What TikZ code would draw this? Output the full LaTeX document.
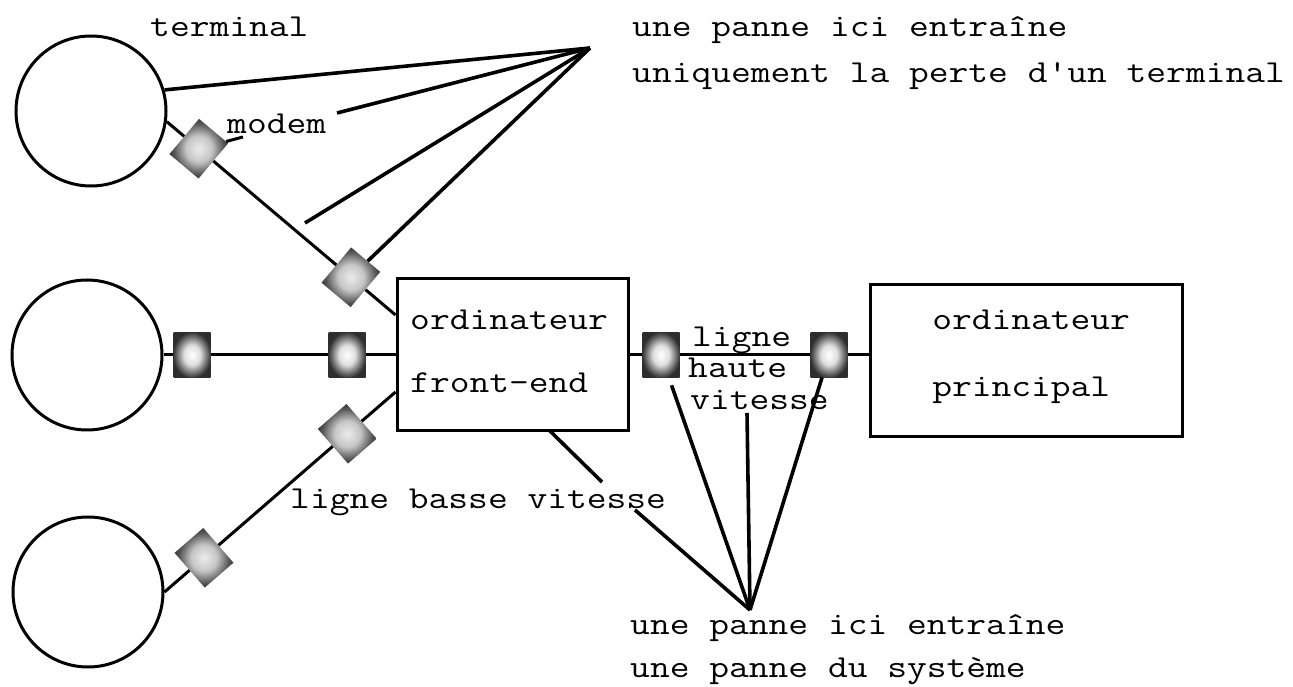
\documentclass[tikz,border=0pt]{standalone}
\usepackage{fontspec}
\usetikzlibrary{calc}
\pgfdeclareradialshading{sqshade}{\pgfpoint{0bp}{0bp}}{color(0bp)=(white); color(11bp)=(gray!25); color(21bp)=(black!60); color(26bp)=(black!82); color(50bp)=(black!82)}
\pgfdeclareradialshading{dmshade}{\pgfpoint{0bp}{0bp}}{color(0bp)=(gray!15); color(11bp)=(gray!45); color(21bp)=(black!66); color(26bp)=(black!80); color(50bp)=(black!80)}
\begin{document}
\begin{tikzpicture}[x=1pt,y=1pt,
  term/.style={circle,draw,line width=3pt,minimum size=150pt,inner sep=0pt},
  comp/.style={rectangle,draw,line width=3pt,inner sep=0pt},
  modem/.style={rectangle,shading=sqshade,minimum width=37pt,minimum height=45pt,inner sep=0pt},
  dmodem/.style={rectangle,shading=dmshade,minimum width=38pt,minimum height=46pt,inner sep=0pt},
  txt/.style={anchor=base west,inner sep=0pt,xscale=1.2,font=\ttfamily\fontsize{32}{38}\selectfont},
  wire/.style={line width=3pt},
  fan/.style={line width=3.6pt}]
\useasboundingbox (0,0) rectangle (1293,686);
\fill[white] (0,0) rectangle (1293,686);
% terminals and computers
\node[term] (t1) at (91,575) {};
\node[term] (t2) at (87,331) {};
\node[term] (t3) at (88,94) {};
\node[comp,minimum width=231pt,minimum height=152pt] (fe) at (512.5,331) {};
\node[comp,minimum width=312pt,minimum height=152pt] (pc) at (1026,325) {};
% attachment points
\coordinate (feu) at ([yshift=40pt]fe.west);
\coordinate (fel) at ([yshift=-37pt]fe.west);
% modems
\node[dmodem,rotate=-40] (m1) at ($(t1.-8)!0.14!(feu)$) {};
\node[dmodem,rotate=-40] (m2) at ($(t1.-8)!0.805!(feu)$) {};
\node[modem] (m3) at (192,331) {};
\node[modem] (m4) at (347,331) {};
\node[dmodem,rotate=41] (m5) at ($(fel)!0.209!(t3.east)$) {};
\node[dmodem,rotate=41] (m6) at ($(fel)!0.829!(t3.east)$) {};
\node[modem] (m7) at (661,331) {};
\node[modem] (m8) at (829,331) {};
% lines
\draw[wire] (t1.-8) -- (m1) -- (m2) -- (feu);
\draw[wire] (t2) -- (m3) -- (m4) -- (fe);
\draw[wire] (fel) -- (m5) -- (m6) -- (t3.east);
\draw[wire] (fe) -- (m7) -- (m8) -- (m8 -| pc.west);
% modem leader
\coordinate (mt) at (243,549);
\draw[wire] (m1) -- (mt);
% top fan
\coordinate (c1) at (590,638);
\coordinate (b1) at (337,573);
\coordinate (b2) at (305,463);
\draw[fan] (t1.16) -- (c1);
\draw[fan] (b1) -- (c1);
\draw[fan] (b2) -- (c1);
\draw[fan] (m2) -- (c1);
% bottom fan
\coordinate (c2) at (750,76);
\coordinate (e1) at (550,255);
\coordinate (e2) at (602,204);
\coordinate (e3) at (635,176);
\coordinate (g1) at (747,273);
\draw[fan] (e1) -- (e2);
\draw[fan] (e3) -- (c2);
\draw[fan,shorten <=8pt] (m7) -- (c2);
\draw[fan] (g1) -- (c2);
\draw[fan] (m8) -- (c2);
% texts
\node[txt] (lterm) at (150,649) {terminal};
\node[txt] (lmodem) at (227,552) {modem};
\node[txt] (n1a) at (632,649) {une panne ici entraîne};
\node[txt] (n1b) at (632,603) {uniquement la perte d'un terminal};
\node[txt] (fe1) at (410,356) {ordinateur};
\node[txt] (fe2) at (410,293) {front-end};
\node[txt] (pc1) at (932,356) {ordinateur};
\node[txt] (pc2) at (932,289) {principal};
\node[txt] (h1) at (692,339) {ligne};
\node[txt] (h2) at (688,308) {haute};
\node[txt] (h3) at (690,276) {vitesse};
\node[txt] (lb) at (290,178) {ligne basse vitesse};
\node[txt] (n2a) at (630,52) {une panne ici entraîne};
\node[txt] (n2b) at (630,9) {une panne du système};
\end{tikzpicture}
\end{document}
